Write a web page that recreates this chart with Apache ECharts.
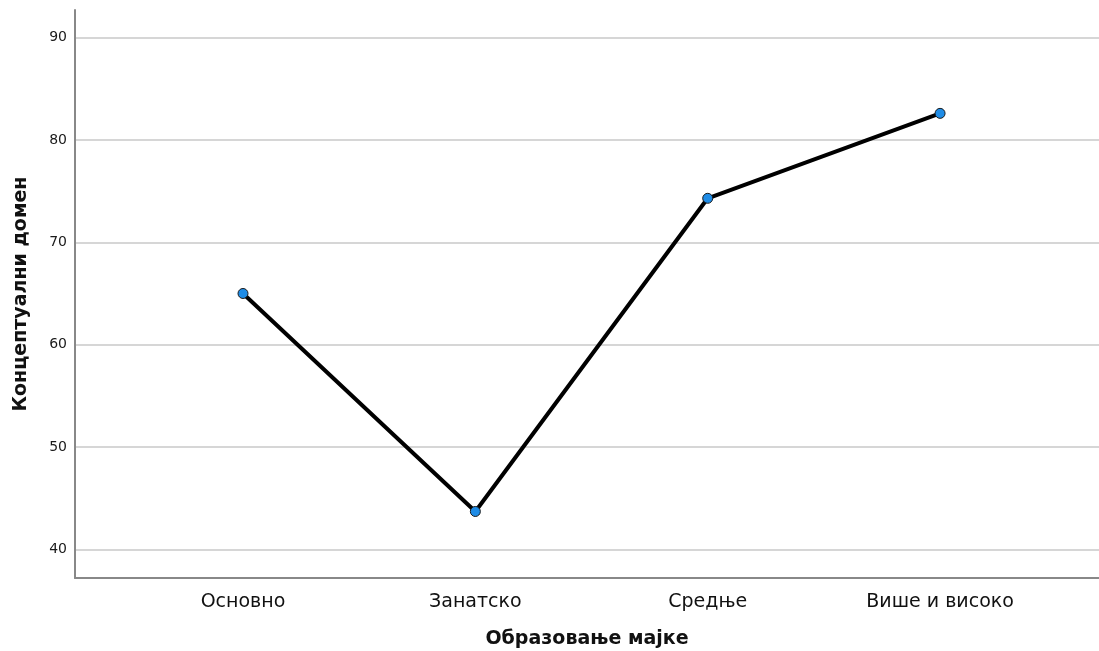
<!DOCTYPE html>
<html>
<head>
<meta charset="utf-8">
<script src="https://cdn.jsdelivr.net/npm/echarts@6/dist/echarts.min.js"></script>
<style>html,body{margin:0;padding:0;background:#fff}#c{width:1099px;height:651px}</style>
</head>
<body>
<div id="c"></div>
<script>
const categories = ['Основно', 'Занатско', 'Средње', 'Више и високо'];
const values = [65.0, 43.7, 74.3, 82.6];
const yTicks = [40, 50, 60, 70, 80, 90];
const xName = 'Образовање мајке';
const yName = 'Концептуални домен';

const chart = echarts.init(document.getElementById('c'));
const idx = categories.map((_, i) => i);
chart.setOption({
  animation: false,
  grid: { left: 75, right: 0, top: 10, bottom: 73, containLabel: false, outerBoundsMode: 'none' },
  xAxis: {
    type: 'value', min: -0.723, max: 3.684,
    name: xName, nameLocation: 'middle', nameGap: 52,
    nameTextStyle: { fontFamily: 'DejaVu Sans', fontSize: 19, fontWeight: 'bold', color: '#111' },
    axisLine: { show: true, onZero: false, lineStyle: { color: '#888', width: 2 } },
    axisTick: { show: false, customValues: idx },
    splitLine: { show: false },
    axisLabel: { customValues: idx, formatter: v => categories[Math.round(v)] || '',
      fontFamily: 'DejaVu Sans', fontSize: 19, color: '#111', margin: 15 }
  },
  yAxis: {
    type: 'value', min: 37.2, max: 92.7,
    name: yName, nameLocation: 'middle', nameGap: 44, nameRotate: 90,
    nameTextStyle: { fontFamily: 'DejaVu Sans', fontSize: 19, fontWeight: 'bold', color: '#111' },
    axisLine: { show: true, onZero: false, lineStyle: { color: '#888', width: 2 } },
    axisTick: { show: false, customValues: yTicks },
    axisLabel: { customValues: yTicks, fontFamily: 'DejaVu Sans', fontSize: 14, color: '#1a1a1a', margin: 8 },
    splitLine: { show: true, lineStyle: { color: '#c8c8c8', width: 1.5 } }
  },
  series: [{
    type: 'line',
    data: values.map((v, i) => [idx[i], v]),
    symbol: 'circle', symbolSize: 10,
    lineStyle: { color: '#000', width: 4 },
    itemStyle: { color: '#1f8ce6', borderColor: '#1a1a1a', borderWidth: 1 },
    z: 3
  }]
});
</script>
</body>
</html>
